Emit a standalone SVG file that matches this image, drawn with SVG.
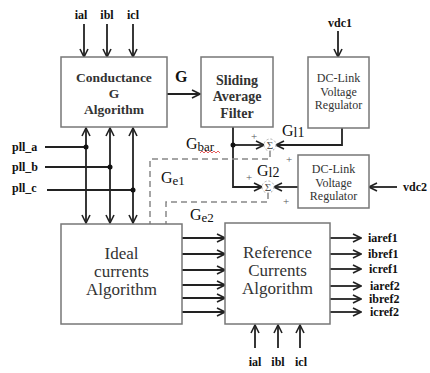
<svg xmlns="http://www.w3.org/2000/svg" width="430" height="373" viewBox="0 0 430 373">
<style>
.box{fill:#fff;stroke:#777;stroke-width:1.5}
text{font-family:"Liberation Serif","Times New Roman",Times,"DejaVu Serif",serif}
.bt{font-weight:bold;fill:#333;text-anchor:middle}
.rt{fill:#333;text-anchor:middle}
.lbl{font-weight:bold;font-size:12px;fill:#111}
.g{font-size:16px;fill:#111}
.ln{fill:none;stroke:#222;stroke-width:1.8}
.ar{fill:none;stroke:#222;stroke-width:1.8;marker-end:url(#arr)}
.bi{fill:none;stroke:#222;stroke-width:1.8;marker-end:url(#arr);marker-start:url(#arr)}
.dash{fill:none;stroke:#888;stroke-width:1.5;stroke-dasharray:6 4}
.plus{font-size:11px;fill:#555;text-anchor:middle}
</style>
<defs>
<marker id="arr" viewBox="0 0 10 10" refX="9" refY="5" markerWidth="10" markerHeight="10" markerUnits="userSpaceOnUse" orient="auto-start-reverse">
<path d="M1,1 L9,5 L1,9" fill="none" stroke="#222" stroke-width="1.6"/>
</marker>
</defs>
<rect width="430" height="373" fill="#fff"/>

<g id="connectors">
<line class="ar" x1="84" y1="24" x2="84" y2="57"/>
<line class="ar" x1="107" y1="24" x2="107" y2="57"/>
<line class="ar" x1="133" y1="24" x2="133" y2="57"/>
<line class="bi" x1="86" y1="128" x2="86" y2="223"/>
<line class="bi" x1="110" y1="128" x2="110" y2="223"/>
<line class="bi" x1="133" y1="128" x2="133" y2="223"/>
<line class="ln" x1="45" y1="147" x2="86" y2="147"/>
<line class="ln" x1="45" y1="167" x2="110" y2="167"/>
<line class="ln" x1="47" y1="190" x2="133" y2="190"/>
<circle cx="86" cy="147" r="2.5" fill="#111"/>
<circle cx="110" cy="167" r="2.5" fill="#111"/>
<circle cx="133" cy="190" r="2.5" fill="#111"/>
<line class="ar" x1="167" y1="94" x2="200" y2="94"/>
<path class="ar" d="M233,127 V187 H262"/>
<line class="ar" x1="233" y1="145" x2="264" y2="145"/>
<circle cx="233" cy="145" r="2.5" fill="#111"/>
<path class="ar" d="M342,128 V145 H276"/>
<line class="ar" x1="298" y1="187" x2="274" y2="187"/>
<line class="ar" x1="338" y1="31" x2="338" y2="57"/>
<line class="ar" x1="397" y1="187" x2="369" y2="187"/>
<path class="dash" d="M270,151 V159 H150 V224"/>
<path class="dash" d="M268,193 V202 H166 V224"/>
<line class="ar" x1="182" y1="238" x2="225" y2="238"/>
<line class="ar" x1="182" y1="254" x2="225" y2="254"/>
<line class="ar" x1="182" y1="270" x2="225" y2="270"/>
<line class="ar" x1="182" y1="285" x2="225" y2="285"/>
<line class="ar" x1="182" y1="298" x2="225" y2="298"/>
<line class="ar" x1="182" y1="312" x2="225" y2="312"/>
<line class="ar" x1="330" y1="238" x2="361" y2="238"/>
<line class="ar" x1="330" y1="254" x2="361" y2="254"/>
<line class="ar" x1="330" y1="269" x2="361" y2="269"/>
<line class="ar" x1="330" y1="286" x2="361" y2="286"/>
<line class="ar" x1="330" y1="299" x2="361" y2="299"/>
<line class="ar" x1="330" y1="312" x2="361" y2="312"/>
<line class="ar" x1="255" y1="348" x2="255" y2="325"/>
<line class="ar" x1="278" y1="348" x2="278" y2="325"/>
<line class="ar" x1="300" y1="348" x2="300" y2="325"/>
</g>

<g id="labels">
<text class="lbl" x="81" y="19" text-anchor="middle">ial</text>
<text class="lbl" x="107" y="19" text-anchor="middle">ibl</text>
<text class="lbl" x="133" y="19" text-anchor="middle">icl</text>
<text class="lbl" x="12" y="151">pll_a</text>
<text class="lbl" x="12" y="171">pll_b</text>
<text class="lbl" x="12" y="192">pll_c</text>
<text x="175" y="82" font-weight="bold" font-size="16" fill="#111">G</text>
<text class="g" x="186" y="149">G<tspan font-size="13" dy="2">bar</tspan></text>
<path d="M200,153 l2,-2 l2,2 l2,-2 l2,2 l2,-2 l2,2 l2,-2 l2,2 l2,-2 l2,2" fill="none" stroke="#d33" stroke-width="0.8"/>
<text class="g" x="161" y="183">G<tspan font-size="13" dy="2">e1</tspan></text>
<text class="g" x="190" y="220">G<tspan font-size="13" dy="2">e2</tspan></text>
<text class="g" x="282" y="136">G<tspan font-size="14" dy="1">l1</tspan></text>
<text class="g" x="257" y="176">G<tspan font-size="14" dy="1">l2</tspan></text>
<text class="plus" x="254" y="140">+</text>
<text class="plus" x="289" y="163">+</text>
<text class="plus" x="249" y="181">+</text>
<text class="plus" x="286" y="205">+</text>
<text class="lbl" x="340" y="27" text-anchor="middle">vdc1</text>
<text class="lbl" x="403" y="191">vdc2</text>
<text class="lbl" x="368" y="242">iaref1</text>
<text class="lbl" x="368" y="258">ibref1</text>
<text class="lbl" x="369" y="273">icref1</text>
<text class="lbl" x="370" y="290">iaref2</text>
<text class="lbl" x="369" y="303">ibref2</text>
<text class="lbl" x="370" y="316">icref2</text>
<text class="lbl" x="255" y="366" text-anchor="middle">ial</text>
<text class="lbl" x="278" y="366" text-anchor="middle">ibl</text>
<text class="lbl" x="301" y="366" text-anchor="middle">icl</text>
</g>

<g id="sum1">
<circle cx="270" cy="145" r="6" fill="#fff" stroke="#aaa" stroke-width="1" stroke-dasharray="2 2"/>
<text x="270" y="149" font-size="11" fill="#555" text-anchor="middle">Σ</text>
</g>
<g id="sum2">
<circle cx="268" cy="187" r="6" fill="#fff" stroke="#aaa" stroke-width="1" stroke-dasharray="2 2"/>
<text x="268" y="191" font-size="11" fill="#555" text-anchor="middle">Σ</text>
</g>

<g id="conductance">
<rect class="box" x="61" y="57" width="106" height="70"/>
<text class="bt" font-size="13.5" x="114" y="82">Conductance</text>
<text class="bt" font-size="13.5" x="114" y="98">G</text>
<text class="bt" font-size="13.5" x="114" y="114">Algorithm</text>
</g>
<g id="filter">
<rect class="box" x="201" y="57" width="72" height="70"/>
<text class="bt" font-size="14" x="237" y="85">Sliding</text>
<text class="bt" font-size="14" x="237" y="101">Average</text>
<text class="bt" font-size="14" x="237" y="118">Filter</text>
</g>
<g id="dclink1">
<rect class="box" x="308" y="57" width="61" height="71"/>
<text class="rt" font-size="12" fill="#444" x="338.5" y="82">DC-Link</text>
<text class="rt" font-size="12" fill="#444" x="338.5" y="96">Voltage</text>
<text class="rt" font-size="12" fill="#444" x="338.5" y="109">Regulator</text>
</g>
<g id="dclink2">
<rect class="box" x="298" y="155" width="71" height="53"/>
<text class="rt" font-size="12" fill="#444" x="333.5" y="173">DC-Link</text>
<text class="rt" font-size="12" fill="#444" x="333.5" y="187">Voltage</text>
<text class="rt" font-size="12" fill="#444" x="333.5" y="200">Regulator</text>
</g>
<g id="ideal">
<rect class="box" x="61" y="224" width="121" height="100"/>
<text class="rt" font-size="17" x="121.5" y="259">Ideal</text>
<text class="rt" font-size="17" x="121.5" y="277">currents</text>
<text class="rt" font-size="17" x="121.5" y="295">Algorithm</text>
</g>
<g id="reference">
<rect class="box" x="225" y="223" width="105" height="101"/>
<text class="rt" font-size="17" x="277.5" y="258">Reference</text>
<text class="rt" font-size="17" x="277.5" y="276">Currents</text>
<text class="rt" font-size="17" x="277.5" y="294">Algorithm</text>
</g>
</svg>
